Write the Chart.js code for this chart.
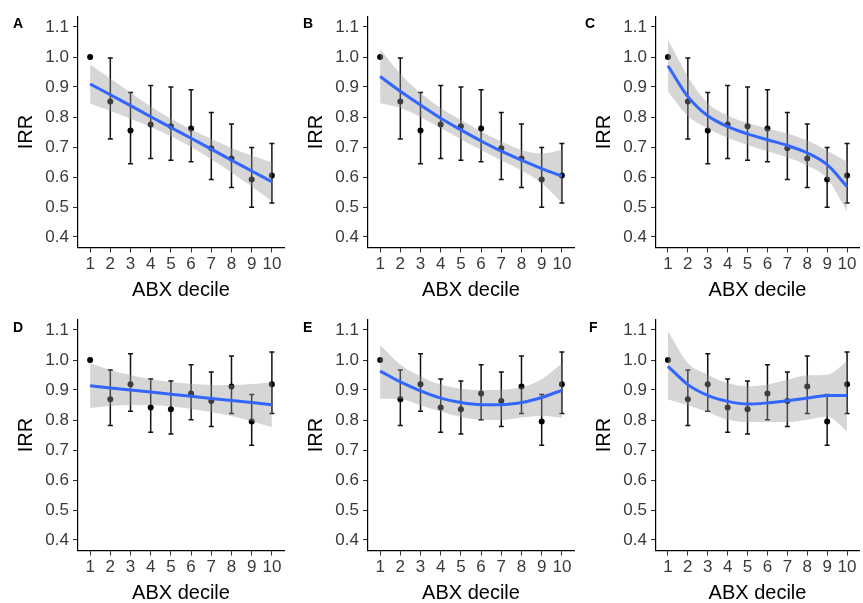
<!DOCTYPE html>
<html><head><meta charset="utf-8">
<script src="https://cdn.jsdelivr.net/npm/chart.js@4.4.1/dist/chart.umd.min.js"></script>
<style>
html,body{margin:0;padding:0;background:#fff;}
#fig{position:relative;width:863px;height:603px;overflow:hidden;background:#fff;}
.lab{position:absolute;font:bold 14px 'Liberation Sans',Arial,sans-serif;line-height:14px;color:#000;}
canvas{position:absolute;}
</style></head><body>
<div id="fig"></div>
<script>
// ---- data ----
const deciles = [1, 2, 3, 4, 5, 6, 7, 8, 9, 10];
const xTickLabels = ['1', '2', '3', '4', '5', '6', '7', '8', '9', '10'];
const yTicks = [0.4, 0.5, 0.6, 0.7, 0.8, 0.9, 1.0, 1.1];
const yTickLabels = ['0.4', '0.5', '0.6', '0.7', '0.8', '0.9', '1.0', '1.1'];
const panelLetters = ['A', 'B', 'C', 'D', 'E', 'F'];
const xTitle = 'ABX decile';
const yTitle = 'IRR';

// observed IRR with 95% CI (top row: A-C, bottom row: D-F)
const irrTop    = [1.000, 0.852, 0.755, 0.775, 0.769, 0.762, 0.696, 0.662, 0.592, 0.605];
const ciLowTop  = [null,  0.727, 0.644, 0.662, 0.656, 0.651, 0.592, 0.565, 0.499, 0.513];
const ciHighTop = [null,  0.997, 0.882, 0.905, 0.900, 0.891, 0.815, 0.777, 0.698, 0.712];

const irrBottom    = [1.000, 0.869, 0.919, 0.842, 0.836, 0.888, 0.863, 0.912, 0.795, 0.919];
const ciLowBottom  = [null,  0.782, 0.829, 0.759, 0.753, 0.801, 0.778, 0.822, 0.716, 0.822];
const ciHighBottom = [null,  0.967, 1.021, 0.937, 0.930, 0.984, 0.960, 1.013, 0.885, 1.027];

// smooth fits and confidence bands
const fitA      = [0.910, 0.874, 0.838, 0.801, 0.765, 0.729, 0.693, 0.656, 0.620, 0.584];
const bandLowA  = [0.845, 0.820, 0.794, 0.767, 0.736, 0.700, 0.659, 0.615, 0.568, 0.519];
const bandHighA = [0.975, 0.928, 0.882, 0.835, 0.794, 0.758, 0.727, 0.697, 0.672, 0.649];

const fitB      = [0.935, 0.886, 0.840, 0.796, 0.757, 0.720, 0.686, 0.656, 0.628, 0.603];
const bandLowB  = [0.846, 0.830, 0.800, 0.763, 0.726, 0.690, 0.655, 0.622, 0.580, 0.514];
const bandHighB = [1.027, 0.944, 0.880, 0.830, 0.790, 0.752, 0.718, 0.690, 0.678, 0.690];

const fitC      = [0.971, 0.868, 0.804, 0.768, 0.744, 0.724, 0.705, 0.680, 0.641, 0.568];
const bandLowC  = [0.885, 0.803, 0.762, 0.731, 0.707, 0.686, 0.665, 0.638, 0.594, 0.486];
const bandHighC = [1.058, 0.935, 0.846, 0.805, 0.780, 0.762, 0.745, 0.722, 0.688, 0.650];

const fitD      = [0.914, 0.907, 0.900, 0.893, 0.886, 0.879, 0.872, 0.865, 0.858, 0.851];
const bandLowD  = [0.840, 0.847, 0.850, 0.850, 0.845, 0.837, 0.827, 0.813, 0.796, 0.776];
const bandHighD = [0.989, 0.967, 0.950, 0.936, 0.927, 0.921, 0.917, 0.917, 0.920, 0.927];

const fitE      = [0.963, 0.927, 0.897, 0.873, 0.858, 0.851, 0.851, 0.858, 0.875, 0.899];
const bandLowE  = [0.871, 0.870, 0.849, 0.828, 0.810, 0.801, 0.800, 0.808, 0.814, 0.807];
const bandHighE = [1.050, 0.985, 0.946, 0.918, 0.904, 0.900, 0.901, 0.909, 0.936, 0.989];

const fitF      = [0.979, 0.918, 0.882, 0.862, 0.853, 0.857, 0.864, 0.873, 0.882, 0.882];
const bandLowF  = [0.868, 0.849, 0.827, 0.801, 0.793, 0.793, 0.793, 0.801, 0.812, 0.762];
const bandHighF = [1.096, 0.990, 0.951, 0.923, 0.912, 0.918, 0.934, 0.949, 0.951, 0.996];

// ---- layout ----
const panels = [
  {letter: panelLetters[0], left: 0,   top: 0,   w: 290, padR: 6, labX: 13,  labY: 16,  irr: irrTop, lo: ciLowTop, hi: ciHighTop, fit: fitA, bLo: bandLowA, bHi: bandHighA},
  {letter: panelLetters[1], left: 290, top: 0,   w: 290, padR: 6, labX: 303, labY: 16,  irr: irrTop, lo: ciLowTop, hi: ciHighTop, fit: fitB, bLo: bandLowB, bHi: bandHighB},
  {letter: panelLetters[2], left: 578, top: 0,   w: 285, padR: 1, labX: 585, labY: 16,  irr: irrTop, lo: ciLowTop, hi: ciHighTop, fit: fitC, bLo: bandLowC, bHi: bandHighC},
  {letter: panelLetters[3], left: 0,   top: 303, w: 290, padR: 6, labX: 13,  labY: 320, irr: irrBottom, lo: ciLowBottom, hi: ciHighBottom, fit: fitD, bLo: bandLowD, bHi: bandHighD},
  {letter: panelLetters[4], left: 290, top: 303, w: 290, padR: 6, labX: 303, labY: 320, irr: irrBottom, lo: ciLowBottom, hi: ciHighBottom, fit: fitE, bLo: bandLowE, bHi: bandHighE},
  {letter: panelLetters[5], left: 578, top: 303, w: 285, padR: 1, labX: 589, labY: 320, irr: irrBottom, lo: ciLowBottom, hi: ciHighBottom, fit: fitF, bLo: bandLowF, bHi: bandHighF}
];

const FONT = "'Liberation Sans', Arial, sans-serif";
const fig = document.getElementById('fig');

function errorBarPlugin(lo, hi) {
  return {
    id: 'errorBars',
    beforeDatasetsDraw(chart) {
      const {ctx, scales: {x, y}} = chart;
      ctx.save();
      ctx.strokeStyle = '#111';
      ctx.lineWidth = 1.5;
      deciles.forEach((d, i) => {
        if (lo[i] == null) return;
        const px = x.getPixelForValue(d);
        const y1 = y.getPixelForValue(lo[i]);
        const y2 = y.getPixelForValue(hi[i]);
        ctx.beginPath();
        ctx.moveTo(px, y1); ctx.lineTo(px, y2);
        ctx.moveTo(px - 2.5, y1); ctx.lineTo(px + 2.5, y1);
        ctx.moveTo(px - 2.5, y2); ctx.lineTo(px + 2.5, y2);
        ctx.stroke();
      });
      ctx.restore();
    }
  };
}

const toPts = arr => deciles.map((d, i) => ({x: d, y: arr[i]}));

panels.forEach(p => {
  const lab = document.createElement('div');
  lab.className = 'lab';
  lab.style.left = p.labX + 'px';
  lab.style.top = p.labY + 'px';
  lab.textContent = p.letter;

  const cv = document.createElement('canvas');
  cv.width = p.w; cv.height = 300;
  cv.style.left = p.left + 'px'; cv.style.top = p.top + 'px';
  fig.appendChild(cv);
  fig.appendChild(lab);

  new Chart(cv, {
    type: 'line',
    data: {
      datasets: [
        {data: toPts(p.bHi), borderWidth: 0, pointRadius: 0, fill: '+1',
         backgroundColor: 'rgba(153,153,153,0.4)', borderColor: 'rgba(0,0,0,0)',
         cubicInterpolationMode: 'monotone', order: 2},
        {data: toPts(p.bLo), borderWidth: 0, pointRadius: 0, fill: false,
         borderColor: 'rgba(0,0,0,0)', cubicInterpolationMode: 'monotone', order: 2},
        {data: toPts(p.fit), borderColor: '#3366FF', borderWidth: 3, pointRadius: 0, fill: false,
         cubicInterpolationMode: 'monotone', order: 0},
        {data: toPts(p.irr), showLine: false, pointRadius: 3, pointBackgroundColor: '#000',
         pointBorderWidth: 0, borderColor: '#000', order: 5}
      ]
    },
    options: {
      responsive: false,
      animation: false,
      events: [],
      layout: {padding: {top: 16.5, left: 0, right: p.padR, bottom: 0}},
      plugins: {legend: {display: false}, tooltip: {enabled: false}},
      scales: {
        x: {
          type: 'linear', min: 0.4, max: 10.6,
          afterBuildTicks: s => { s.ticks = deciles.map(v => ({value: v})); },
          afterFit: s => { s.height = 52.5; },
          grid: {display: true, drawOnChartArea: false, drawTicks: true, tickLength: 5, tickColor: '#333', tickWidth: 1},
          border: {display: true, color: '#000', width: 1.2},
          ticks: {autoSkip: false, maxRotation: 0, minRotation: 0, padding: 2, color: '#3a3a3a',
                  font: {family: FONT, size: 17},
                  callback: v => xTickLabels[deciles.indexOf(v)]},
          title: {display: true, text: xTitle, color: '#000', font: {family: FONT, size: 20, lineHeight: 1},
                  padding: {top: 0, bottom: 0}}
        },
        y: {
          type: 'linear', min: 0.365, max: 1.135,
          afterBuildTicks: s => { s.ticks = yTicks.map(v => ({value: v})); },
          afterFit: s => { s.width = 78; },
          grid: {display: true, drawOnChartArea: false, drawTicks: true, tickLength: 5, tickColor: '#333', tickWidth: 1},
          border: {display: true, color: '#000', width: 1.2},
          ticks: {padding: 4, color: '#3a3a3a', font: {family: FONT, size: 17},
                  callback: v => yTickLabels[yTicks.findIndex(t => Math.abs(t - v) < 1e-6)]},
          title: {display: true, text: yTitle, color: '#000', font: {family: FONT, size: 20, lineHeight: 1},
                  padding: {top: 16, bottom: 0}}
        }
      }
    },
    plugins: [errorBarPlugin(p.lo, p.hi)]
  });
});
</script>
</body></html>
